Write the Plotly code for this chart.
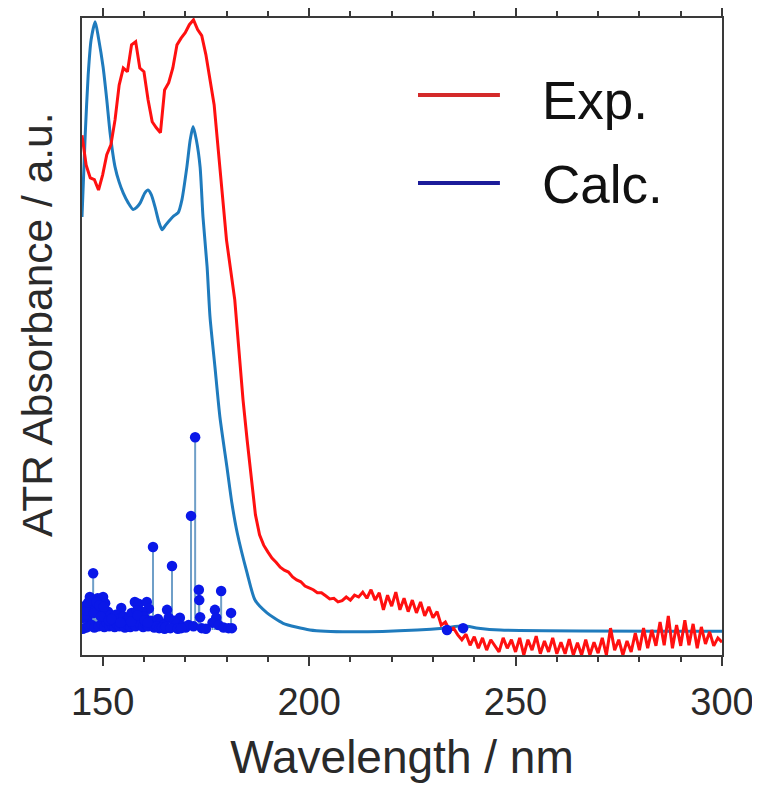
import plotly.graph_objects as go

# ---------------- data ----------------
exp_wl = list(range(145, 301))
exp_abs = [
    0.811, 0.762, 0.741, 0.738, 0.721, 0.746, 0.779, 0.795, 0.836, 0.893,
    0.921, 0.915, 0.959, 0.964, 0.921, 0.915, 0.869, 0.833, 0.823, 0.815,
    0.885, 0.897, 0.921, 0.959, 0.970, 0.979, 0.992, 1.000, 0.984, 0.974,
    0.943, 0.902, 0.861, 0.787, 0.713, 0.639, 0.590, 0.541, 0.459, 0.377,
    0.311, 0.246, 0.189, 0.156, 0.139, 0.128, 0.118, 0.111, 0.103, 0.098,
    0.095, 0.087, 0.082, 0.079, 0.072, 0.069, 0.066, 0.061, 0.061, 0.056,
    0.051, 0.052, 0.046, 0.048, 0.054, 0.049, 0.057, 0.054, 0.062, 0.052,
    0.066, 0.049, 0.061, 0.033, 0.057, 0.039, 0.062, 0.033, 0.052, 0.030,
    0.049, 0.028, 0.046, 0.023, 0.038, 0.020, 0.030, 0.008, 0.013, 0.000,
    0.003, -0.008, -0.016, -0.007, -0.025, -0.011, -0.030, -0.013, -0.033, -0.016,
    -0.025, -0.036, -0.013, -0.030, -0.016, -0.036, -0.013, -0.041, -0.016, -0.033,
    -0.010, -0.039, -0.018, -0.036, -0.013, -0.039, -0.020, -0.039, -0.015, -0.041,
    -0.021, -0.041, -0.016, -0.041, -0.020, -0.038, -0.013, -0.041, 0.003, -0.033,
    -0.016, -0.041, -0.018, -0.036, -0.005, -0.033, 0.003, -0.030, 0.000, -0.026,
    0.013, -0.025, 0.023, -0.030, 0.008, -0.026, 0.016, -0.025, 0.010, -0.030,
    0.005, -0.023, -0.003, -0.026, -0.013, -0.020,
]

calc_wl = [
    145.0, 145.8, 146.5, 147.2, 148.2, 149.0, 150.1, 151.0, 151.8, 153.0,
    154.0, 155.0, 156.2, 157.4, 158.3, 159.1, 160.2, 161.0, 161.8, 162.7,
    163.6, 164.4, 165.3, 166.3, 167.3, 168.3, 169.2, 170.4, 171.2, 171.9,
    172.7, 173.6, 174.3, 175.3, 176.0, 177.2, 178.4, 180.1, 181.3, 182.6,
    185.0, 186.9, 189.8, 193.7, 200.2, 209.9, 226.2, 232.5, 237.3, 241.0,
    246.3, 300.0,
]
calc_abs = [
    0.677, 0.815, 0.910, 0.967, 0.997, 0.970, 0.923, 0.869, 0.815, 0.759,
    0.734, 0.716, 0.700, 0.689, 0.693, 0.700, 0.716, 0.721, 0.713, 0.693,
    0.669, 0.656, 0.664, 0.672, 0.679, 0.684, 0.705, 0.759, 0.803, 0.825,
    0.803, 0.759, 0.677, 0.595, 0.513, 0.431, 0.349, 0.267, 0.208, 0.159,
    0.093, 0.049, 0.028, 0.011, 0.000, -0.003, 0.000, 0.003, 0.007, 0.003,
    0.000, -0.002,
]

stick_wl = [
    146.9, 147.7, 150.1, 162.2, 166.8, 171.4, 172.4, 173.3, 173.4, 173.6,
    178.7, 177.2, 177.5, 181.1, 165.6, 166.0, 168.7, 154.5, 157.8, 158.7,
    160.7, 161.2, 159.5,
    145.5, 145.9, 146.3, 147.0, 148.2, 148.8, 149.4, 150.6, 151.3, 151.9,
    152.6, 153.2, 153.8, 155.1, 155.8, 156.4, 157.0, 158.3, 159.0, 160.0,
    161.7, 162.8, 163.4, 164.1, 164.8, 167.3, 167.9, 169.4, 170.1, 170.8,
    172.0, 174.0, 176.6, 178.1, 179.3, 180.5, 181.3, 233.4, 237.3,
    145.2, 146.0, 146.7, 147.4, 148.0, 149.0, 149.8, 150.4, 151.0, 151.6,
    152.3, 152.9, 153.5, 154.1, 154.8, 155.4, 156.1, 156.7, 157.3, 158.0,
    159.2, 159.8, 160.4, 161.0, 162.5, 163.1, 163.7, 164.4, 165.0, 165.3,
    166.4, 168.2, 169.0, 175.0,
    145.3, 145.7, 146.1, 146.5, 147.2, 147.9, 148.5, 149.2, 149.6, 150.3,
    151.5, 152.1, 154.3, 156.9, 158.5, 160.2, 160.9,
]
stick_osc = [
    0.054, 0.093, 0.054, 0.136, 0.105, 0.187, 0.316, 0.066, 0.049, 0.021,
    0.064, 0.033, 0.020, 0.028, 0.033, 0.020, 0.020, 0.036, 0.046, 0.043,
    0.046, 0.035, 0.030,
    0.030, 0.040, 0.020, 0.035, 0.040, 0.052, 0.030, 0.044, 0.030, 0.024,
    0.020, 0.025, 0.018, 0.022, 0.015, 0.020, 0.028, 0.032, 0.018, 0.022,
    0.015, 0.010, 0.018, 0.012, 0.008, 0.015, 0.010, 0.006, 0.004, 0.008,
    0.006, 0.003, 0.012, 0.008, 0.004, 0.003, 0.003, 0.000, 0.003,
    0.002, 0.004, 0.006, 0.008, 0.004, 0.006, 0.010, 0.005, 0.012, 0.006,
    0.008, 0.005, 0.009, 0.006, 0.010, 0.004, 0.008, 0.005, 0.010, 0.006,
    0.008, 0.005, 0.010, 0.006, 0.004, 0.006, 0.003, 0.004, 0.002, 0.005,
    0.003, 0.002, 0.003, 0.002,
    0.020, 0.025, 0.032, 0.045, 0.048, 0.028, 0.046, 0.040, 0.022, 0.038,
    0.016, 0.018, 0.012, 0.014, 0.024, 0.016, 0.012,
]

x_tick_vals = [150, 200, 250, 300]
x_tick_text = ["150", "200", "250", "300"]

# ---------------- figure ----------------
FONT = "Liberation Sans, Arial, sans-serif"
AXIS_COLOR = "#3a3a3a"
TEXT_COLOR = "#2a2a2a"

stem_x, stem_y = [], []
for w, h in zip(stick_wl, stick_osc):
    stem_x += [w, w, None]
    stem_y += [0, h, None]

fig = go.Figure()
fig.add_trace(go.Scatter(
    x=calc_wl, y=calc_abs, mode="lines", name="Calc.",
    line=dict(color="#1f7bbd", width=3, shape="spline", smoothing=0.6),
    showlegend=False,
))
fig.add_trace(go.Scatter(
    x=exp_wl, y=exp_abs, mode="lines", name="Exp.",
    line=dict(color="#ff1010", width=3),
    showlegend=False,
))
fig.add_trace(go.Scatter(
    x=stem_x, y=stem_y, mode="lines", name="stems",
    line=dict(color="#6f9fc8", width=2),
    showlegend=False, hoverinfo="skip",
))
fig.add_trace(go.Scatter(
    x=stick_wl, y=stick_osc, mode="markers", name="oscillator strengths",
    marker=dict(color="#0a18e8", size=10.5),
    showlegend=False,
))

# legend drawn as shapes + text (long line samples as in the original)
legend_items = [("Exp.", "#d42a2a", 0.879, 0.870), ("Calc.", "#1c1c9a", 0.741, 0.738)]
for label, col, yl, yt in legend_items:
    fig.add_shape(type="line", xref="paper", yref="paper",
                  x0=0.525, x1=0.653, y0=yl, y1=yl,
                  line=dict(color=col, width=4))
    fig.add_annotation(xref="paper", yref="paper", x=0.716, y=yt,
                       text=label, showarrow=False, xanchor="left", yanchor="middle",
                       font=dict(family=FONT, size=53, color="#111111"))

# the page body adds an 8 px offset; margins compensate for it
fig.update_layout(
    width=760, height=775,
    margin=dict(l=74, r=46, t=10, b=128),
    paper_bgcolor="white", plot_bgcolor="white",
    font=dict(family=FONT, color=TEXT_COLOR),
    showlegend=False,
)
fig.update_xaxes(
    range=[145, 300], automargin=False,
    tickmode="array", tickvals=x_tick_vals, ticktext=x_tick_text,
    ticks="outside", ticklen=9, tickwidth=2, tickcolor=AXIS_COLOR,
    minor=dict(dtick=10, ticks="outside", ticklen=5, tickwidth=1.5, tickcolor=AXIS_COLOR),
    showline=True, linecolor=AXIS_COLOR, linewidth=2, mirror="ticks",
    showgrid=False, zeroline=False,
    tickfont=dict(family=FONT, size=38, color=TEXT_COLOR),
    ticklabelstandoff=3,
    title=dict(text="Wavelength / nm", font=dict(family=FONT, size=46, color=TEXT_COLOR), standoff=25),
)
fig.update_yaxes(
    range=[-0.041, 1.003], automargin=False,
    showticklabels=False, ticks="",
    showline=True, linecolor=AXIS_COLOR, linewidth=2, mirror=True,
    showgrid=False, zeroline=False,
    title=dict(text="&nbsp;&nbsp;ATR Absorbance / a.u.",
               font=dict(family=FONT, size=42.5, color=TEXT_COLOR), standoff=14),
)

fig.write_html("out.html")
